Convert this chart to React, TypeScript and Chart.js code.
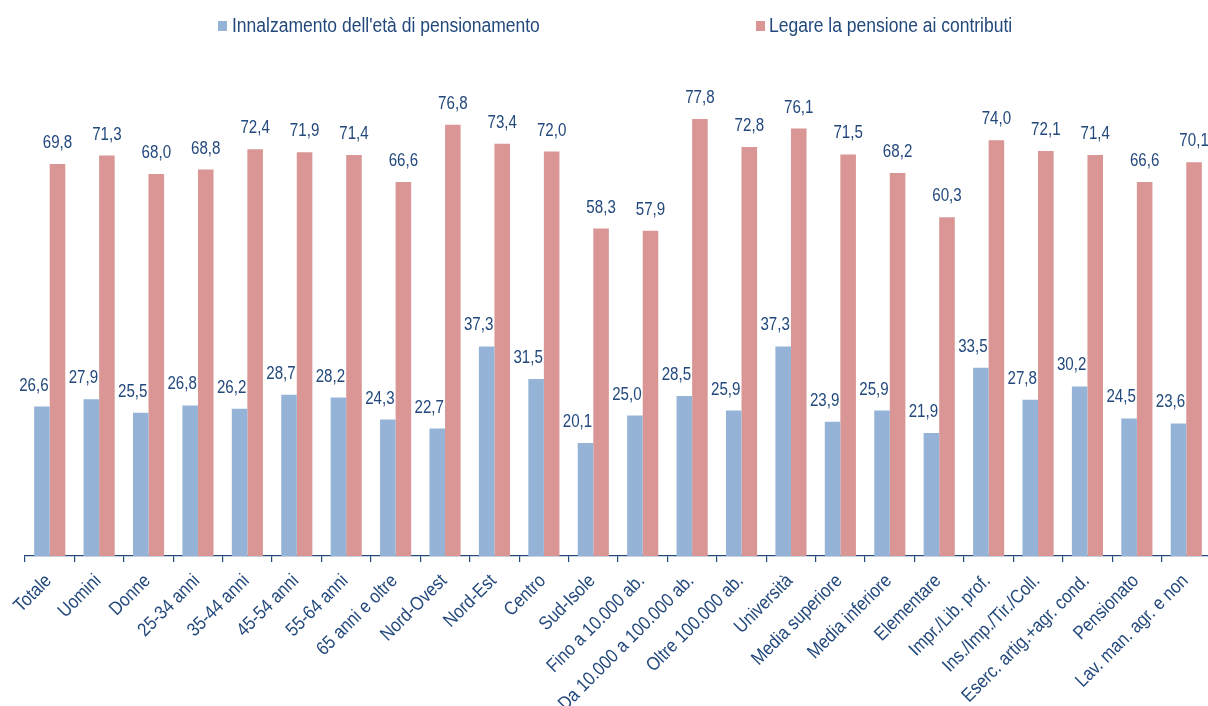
import React, { useEffect, useRef } from "react";
import { Chart, registerables } from "chart.js";

Chart.register(...registerables);

const categories: string[] = [
  "Totale", "Uomini", "Donne", "25-34 anni", "35-44 anni", "45-54 anni", "55-64 anni",
  "65 anni e oltre", "Nord-Ovest", "Nord-Est", "Centro", "Sud-Isole", "Fino a 10.000 ab.",
  "Da 10.000 a 100.000 ab.", "Oltre 100.000 ab.", "Università", "Media superiore",
  "Media inferiore", "Elementare", "Impr./Lib. prof.", "Ins./Imp./Tir./Coll.",
  "Eserc. artig.+agr. cond.", "Pensionato", "Lav. man. agr. e non",
];

const seriesNames: string[] = [
  "Innalzamento dell'età di pensionamento",
  "Legare la pensione ai contributi",
];

const innalzamento: number[] = [
  26.6, 27.9, 25.5, 26.8, 26.2, 28.7, 28.2, 24.3, 22.7, 37.3, 31.5, 20.1,
  25.0, 28.5, 25.9, 37.3, 23.9, 25.9, 21.9, 33.5, 27.8, 30.2, 24.5, 23.6,
];

const contributi: number[] = [
  69.8, 71.3, 68.0, 68.8, 72.4, 71.9, 71.4, 66.6, 76.8, 73.4, 72.0, 58.3,
  57.9, 77.8, 72.8, 76.1, 71.5, 68.2, 60.3, 74.0, 72.1, 71.4, 66.6, 70.1,
];

const BLUE = "#95b3d7";
const RED = "#d99694";
const TEXT = "#23497c";
const FONT = '"Liberation Sans", Arial, sans-serif';
const VALUE_SCALE = 0.84;
const TEXT_SCALE = 0.875;
const LABEL_SHIFT = [-8, 0];

const valueLabels = {
  id: "valueLabels",
  afterDatasetsDraw(chart: any) {
    const ctx = chart.ctx;
    ctx.save();
    ctx.fillStyle = TEXT;
    ctx.font = `18px ${FONT}`;
    ctx.textAlign = "center";
    ctx.textBaseline = "alphabetic";
    chart.data.datasets.forEach((ds: any, di: number) => {
      const meta = chart.getDatasetMeta(di);
      meta.data.forEach((el: any, i: number) => {
        const v = ds.data[i] as number;
        ctx.save();
        ctx.translate(el.x + LABEL_SHIFT[di], el.y - 16);
        ctx.scale(VALUE_SCALE, 1);
        ctx.fillText(v.toFixed(1).replace(".", ","), 0, 0);
        ctx.restore();
      });
    });
    ctx.restore();
  },
};

const xLabels = {
  id: "xLabels",
  afterDraw(chart: any) {
    const ctx = chart.ctx;
    const xs = chart.scales.x;
    const y0 = chart.chartArea.bottom;
    ctx.save();
    ctx.fillStyle = TEXT;
    ctx.font = `19px ${FONT}`;
    ctx.textAlign = "right";
    ctx.textBaseline = "middle";
    (chart.data.labels as string[]).forEach((lab: string, i: number) => {
      const x = xs.getPixelForTick(i);
      ctx.save();
      ctx.translate(x - 1, y0 + 22);
      ctx.rotate(-Math.PI / 4);
      ctx.scale(TEXT_SCALE, 1);
      ctx.fillText(lab, 0, 0);
      ctx.restore();
    });
    ctx.restore();
  },
};

export default function App() {
  const ref = useRef<HTMLCanvasElement | null>(null);
  useEffect(() => {
    if (!ref.current) return;
    const chart = new Chart(ref.current, {
      type: "bar",
      data: {
        labels: categories,
        datasets: [
          { label: seriesNames[0], data: innalzamento, backgroundColor: BLUE },
          { label: seriesNames[1], data: contributi, backgroundColor: RED },
        ],
      },
      plugins: [valueLabels, xLabels],
      options: {
        animation: false,
        responsive: false,
        devicePixelRatio: 1,
        layout: { padding: { left: 25, right: 1, top: 50.5, bottom: 0 } },
        plugins: { legend: { display: false }, tooltip: { enabled: false } },
        datasets: { bar: { categoryPercentage: 0.63, barPercentage: 1.0 } },
        scales: {
          x: {
            afterFit: (scale: any) => {
              scale.height = 150;
            },
            border: { display: true, color: TEXT, width: 1.2 },
            grid: {
              display: true,
              drawOnChartArea: false,
              drawTicks: true,
              tickLength: 6,
              color: TEXT,
              lineWidth: 1.2,
              offset: true,
            },
            ticks: { display: false, autoSkip: false },
          },
          y: { display: false, min: 0, max: 90 },
        },
      },
    });
    return () => chart.destroy();
  }, []);

  const legendText: React.CSSProperties = {
    position: "absolute",
    fontFamily: FONT,
    fontSize: 20,
    color: TEXT,
    whiteSpace: "nowrap",
    lineHeight: "20px",
    transform: `scaleX(${TEXT_SCALE})`,
    transformOrigin: "left center",
  };

  return (
    <div style={{ position: "fixed", left: 0, top: 0, width: 1208, height: 706, overflow: "hidden", background: "#fff" }}>
      <canvas ref={ref} width={1212} height={706} style={{ position: "absolute", left: 0, top: 0, width: 1212, height: 706 }} />
      <div style={{ position: "absolute", left: 218, top: 21, width: 9, height: 10, background: BLUE }} />
      <div style={{ ...legendText, left: 232, top: 15 }}>{seriesNames[0]}</div>
      <div style={{ position: "absolute", left: 756, top: 21, width: 9, height: 10, background: RED }} />
      <div style={{ ...legendText, left: 769, top: 15 }}>{seriesNames[1]}</div>
    </div>
  );
}
